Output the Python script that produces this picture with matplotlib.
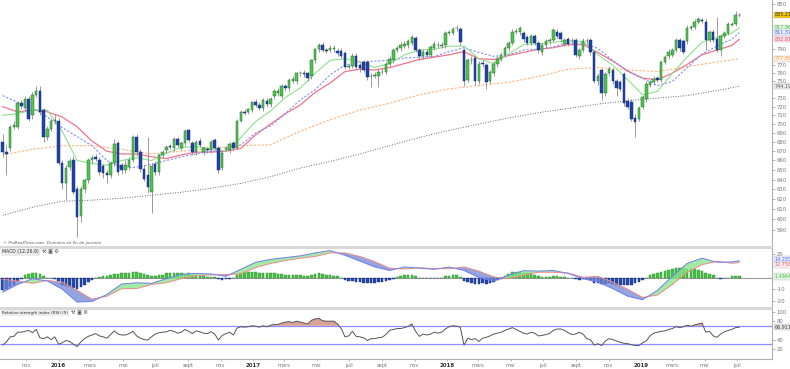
import matplotlib.pyplot as plt
import pandas as pd
from matplotlib.patches import Rectangle
from matplotlib.ticker import NullLocator, NullFormatter

plt.rcParams['font.family'] = ['DejaVu Sans']

# weekly candles, first bar = week of 18 Sep 2015
start = pd.Timestamp('2015-09-18')

opens = [680, 669, 673, 697, 697, 724, 719, 729, 710, 734,
         738, 716, 686, 695, 704, 703, 657, 636, 653, 661,
         630, 603, 630, 639, 660, 664, 661, 654, 647, 645,
         657, 679, 655, 650, 653, 661, 686, 669, 651, 645,
         627, 656, 648, 666, 671, 676, 673, 683, 674, 679,
         693, 679, 669, 681, 669, 672, 671, 682, 673, 652,
         672, 671, 679, 674, 704, 714, 714, 716, 726, 722,
         718, 727, 723, 732, 736, 733, 744, 742, 751, 750,
         760, 760, 760, 756, 776, 790, 796, 789, 789, 790,
         788, 788, 785, 768, 769, 782, 770, 774, 774, 756,
         757, 756, 761, 762, 771, 776, 789, 791, 794, 795,
         798, 804, 789, 781, 787, 783, 792, 796, 794, 795,
         811, 811, 817, 816, 789, 752, 776, 779, 750, 773,
         770, 750, 760, 771, 778, 783, 791, 798, 813, 812,
         811, 806, 798, 807, 798, 786, 795, 800, 802, 813,
         811, 797, 803, 800, 802, 781, 789, 800, 802, 786,
         750, 764, 736, 760, 764, 750, 749, 759, 727, 726,
         707, 706, 720, 729, 746, 749, 754, 752, 774, 781,
         783, 789, 802, 800, 800, 818, 819, 826, 828, 826,
         802, 812, 803, 789, 807, 811, 822, 823, 835]
highs = [689, 677, 699, 703, 727, 728, 733, 733, 737, 745,
         745, 719, 698, 707, 712, 707, 660, 655, 663, 665,
         633, 633, 642, 663, 666, 667, 664, 656, 650, 659,
         683, 681, 657, 660, 664, 688, 689, 672, 655, 686,
         657, 659, 668, 671, 677, 678, 685, 686, 681, 694,
         695, 681, 682, 684, 675, 675, 682, 684, 676, 670,
         676, 680, 681, 706, 716, 717, 719, 727, 729, 725,
         730, 730, 731, 741, 742, 747, 747, 754, 756, 762,
         763, 764, 762, 778, 792, 798, 799, 792, 795, 795,
         791, 791, 788, 772, 785, 785, 773, 776, 776, 760,
         762, 765, 766, 774, 781, 792, 794, 799, 800, 803,
         809, 807, 792, 790, 790, 796, 800, 799, 799, 814,
         815, 819, 822, 819, 792, 779, 781, 782, 775, 776,
         773, 764, 775, 781, 786, 794, 801, 816, 817, 820,
         814, 809, 810, 810, 801, 798, 803, 805, 818, 816,
         814, 805, 806, 804, 805, 792, 804, 805, 805, 789,
         760, 767, 762, 769, 767, 753, 752, 762, 730, 729,
         712, 721, 734, 750, 752, 756, 757, 777, 783, 790,
         792, 805, 805, 803, 821, 822, 829, 832, 831, 829,
         815, 815, 832, 810, 814, 826, 826, 840, 838]
lows = [664, 645, 670, 694, 694, 717, 715, 703, 706, 731,
        710, 680, 682, 692, 700, 655, 630, 619, 650, 625,
        583, 598, 626, 636, 656, 659, 645, 642, 636, 642,
        654, 645, 646, 647, 650, 658, 665, 648, 638, 626,
        606, 645, 645, 663, 668, 672, 670, 675, 671, 676,
        680, 666, 666, 675, 666, 668, 668, 671, 647, 650,
        670, 668, 671, 672, 702, 710, 711, 714, 720, 716,
        715, 720, 720, 729, 733, 730, 739, 739, 748, 747,
        757, 755, 751, 753, 773, 787, 786, 785, 786, 787,
        781, 779, 765, 765, 766, 765, 762, 761, 752, 743,
        754, 743, 759, 759, 768, 773, 786, 788, 791, 792,
        795, 786, 777, 778, 780, 780, 789, 792, 791, 792,
        808, 808, 814, 796, 745, 749, 772, 746, 747, 768,
        741, 747, 757, 768, 775, 780, 788, 795, 810, 809,
        799, 795, 795, 795, 785, 783, 792, 797, 799, 804,
        800, 794, 794, 797, 780, 778, 786, 797, 783, 748,
        746, 728, 733, 757, 747, 733, 738, 721, 717, 703,
        686, 703, 717, 726, 743, 746, 749, 749, 771, 778,
        780, 786, 788, 784, 797, 815, 816, 823, 824, 789,
        799, 799, 786, 782, 804, 808, 820, 820, 832]
closes = [669, 667, 697, 699, 724, 721, 729, 706, 734, 739,
          714, 686, 695, 704, 705, 657, 636, 652, 659, 627,
          602, 630, 639, 661, 663, 662, 648, 647, 645, 657,
          678, 648, 650, 655, 661, 686, 669, 651, 641, 632,
          654, 648, 666, 669, 675, 675, 683, 677, 679, 692,
          682, 669, 680, 677, 673, 671, 680, 673, 650, 668,
          673, 678, 674, 704, 714, 713, 717, 725, 722, 719,
          728, 723, 729, 739, 739, 745, 742, 752, 753, 760,
          760, 759, 754, 776, 790, 795, 789, 788, 792, 792,
          785, 782, 768, 768, 782, 768, 766, 764, 755, 757,
          758, 762, 762, 771, 778, 789, 791, 796, 797, 800,
          806, 789, 781, 787, 783, 793, 797, 795, 796, 811,
          812, 816, 818, 799, 750, 776, 777, 750, 772, 772,
          749, 761, 772, 778, 783, 791, 798, 813, 814, 817,
          803, 798, 807, 798, 789, 795, 800, 802, 815, 807,
          803, 802, 797, 801, 783, 789, 801, 801, 786, 751,
          756, 736, 759, 765, 750, 742, 741, 724, 720, 706,
          702, 718, 731, 747, 749, 753, 752, 774, 780, 787,
          789, 802, 791, 787, 818, 819, 826, 829, 827, 802,
          812, 802, 789, 807, 811, 823, 823, 835, 835.21]

# moving averages read every 4 weeks (fast) / 8 weeks (slow)
ma_fast_weeks = [0, 4, 8, 12, 16, 20, 24, 28, 32, 36, 40, 44, 48, 52, 56, 60, 64, 68,
                 72, 76, 80, 84, 88, 92, 96, 100, 104, 108, 112, 116, 120, 124, 128,
                 132, 136, 140, 144, 148, 152, 156, 160, 164, 168, 172, 176, 180, 184,
                 188, 192, 196, 198]
ma_green = [710, 712, 716, 716, 692, 660, 657, 655, 660, 663, 660, 668, 674, 675, 673,
            670, 685, 703, 715, 731, 742, 760, 776, 778, 774, 767, 772, 783, 789, 790,
            794, 794, 778, 772, 784, 796, 797, 799, 801, 800, 783, 770, 752, 734, 738,
            760, 780, 799, 805, 811, 817.96]
ma_blue = [733, 725, 719, 708, 696, 686, 676, 660, 652, 653, 656, 660, 664, 667, 670,
           671, 677, 690, 698, 712, 728, 740, 758, 770, 774, 775, 776, 779, 780, 781,
           787, 792, 786, 781, 783, 789, 790, 793, 798, 798, 791, 776, 762, 754, 745,
           750, 767, 784, 794, 803, 811.37]
ma_red = [720, 714, 716, 714, 708, 697, 681, 670, 667, 667, 664, 662, 666, 669, 669,
          670, 673, 688, 700, 712, 722, 737, 748, 762, 765, 764, 767, 772, 777, 780,
          783, 787, 778, 777, 782, 786, 790, 792, 796, 796, 786, 775, 763, 754, 752,
          760, 771, 783, 789, 795, 802.81]
ma_slow_weeks = [0, 8, 16, 24, 32, 40, 48, 56, 64, 72, 80, 88, 96, 104, 112, 120, 128,
                 136, 144, 152, 160, 168, 176, 184, 192, 198]
ma_orange = [666, 672, 676, 676, 672, 667, 670, 673, 676, 677, 692, 705, 716, 724, 734,
             741, 745, 749, 756, 765, 767, 764, 762, 768, 774, 777.88]
ma_black = [604, 612, 618, 619, 621, 624, 627, 631, 636, 643, 652, 659, 667, 676, 685,
            693, 700, 707, 713, 718, 723, 727, 730, 733, 739, 744.19]

# MACD (12,26,9): lines read every 4 weeks, histogram weekly
macd_line = [-12.5, -6, -1, -3, -10, -21, -20.5, -14.5, -5.5, -4.5, -5, -1, 2.5, 3.5, 3,
             1, 7, 13, 15.5, 17, 18.5, 21, 23, 19, 14, 9, 6, 9, 8, 7, 9, 6, 0, -3, 2,
             5.8, 5.5, 6, 3.5, -1, -4, -9.5, -16, -19, -11, 1, 12, 16.5, 13, 13.3, 14.285]
macd_signal = [-1.5, -3, -5, -2.5, -4, -11, -18.5, -16, -9.5, -9.5, -6, -4.5, -1, 1.5,
               2.2, 2.5, 3, 8.5, 12, 14.5, 16.5, 18, 21, 21, 18, 13.5, 8, 7.2, 8.3, 7.6,
               7.5, 9, 5.5, 0.5, -1, 1.8, 4.5, 4.5, 3.8, 0.2, 1, -4, -10, -17, -15, -6,
               4.5, 11, 13.8, 12.2, 12.758]
macd_hist = [-11, -10, -8, -6, -3, -1, 2, 3, 4, 4,
             3, 1, -0.5, -0.5, -1, -3, -6, -7, -8, -9,
             -10, -8, -6, -4, -2, -0.5, 0.5, 1, 1.5, 2,
             3, 3, 4, 4, 3.5, 5, 5, 4, 3, 2,
             1, 1.5, 2, 2.5, 3.5, 3.5, 4, 4, 3.5, 3,
             3.5, 2.5, 2, 1.5, 1, 0.5, 0.8, 0.3, -1.5, -1.8,
             -1.5, -1.2, -0.8, 2, 4, 4.5, 5, 5, 4.5, 4,
             4, 3.5, 3.5, 3.5, 3, 3, 2.5, 2.5, 2.5, 2.5,
             2, 1.5, 1, 2, 3, 3.5, 3, 2.5, 2, 1.5,
             1, -0.5, -2, -3, -3, -3.5, -4, -4.5, -5, -5,
             -4.5, -4, -3.5, -3, -2, -1, 0.5, 1.5, 1.8, 2,
             2.2, 1.2, -0.3, -0.5, -0.8, -0.8, -0.6, -0.5, -0.3, 1,
             1.5, 2, 2, 0.5, -3, -4, -4.5, -5.5, -5.5, -5,
             -5.5, -4.5, -3.5, -2, -1, 1, 3, 4.5, 4.8, 5,
             4, 3.5, 3.5, 2.5, 1, 0.8, 0.8, 0.8, 1.5, 1.2,
             0.8, 0.3, -0.3, -0.3, -1.5, -1.8, -1.2, -1.5, -2.5, -4.5,
             -5, -5.5, -5.5, -5, -5.5, -6, -6, -6.5, -6, -6,
             -5, -4, -2, -0.5, 1.9, 3.2, 4, 4.7, 5.5, 6.2,
             7, 8, 8.1, 8, 7.5, 7.2, 7, 6, 5.3, 4,
             3.2, 1.9, -0.8, -1, -0.8, -0.3, 1.2, 1.5, 1.4964]

# RSI (9), weekly
rsi = [28, 35, 46, 47, 56, 56, 58, 60, 55, 62,
       44, 42, 46, 40, 46, 30, 33, 38, 36, 30,
       25, 35, 42, 47, 50, 53, 48, 46, 43, 51,
       59, 52, 50, 50, 53, 58, 48, 43, 40, 39,
       46, 52, 55, 56, 57, 60, 58, 54, 56, 62,
       58, 53, 59, 57, 54, 53, 57, 52, 39, 49,
       53, 56, 50, 65, 68, 67, 68, 70, 69, 67,
       70, 68, 71, 73, 73, 76, 78, 79, 77, 80,
       78, 76, 74, 82, 85, 86, 81, 80, 80, 80,
       74, 64, 46, 48, 58, 47, 46, 44, 38, 42,
       42, 44, 45, 51, 60, 62, 64, 64, 66, 69,
       74, 58, 47, 52, 50, 52, 56, 54, 56, 63,
       68, 70, 69, 67, 28, 43, 40, 42, 36, 43,
       45, 48, 52, 54, 56, 60, 63, 66, 62, 58,
       54, 52, 56, 54, 48, 49, 51, 53, 60, 63,
       63, 60, 55, 51, 52, 56, 52, 42, 40, 28,
       31, 27, 37, 42, 40, 37, 34, 32, 31, 29,
       27, 27, 33, 37, 48, 54, 56, 58, 59, 62,
       64, 68, 66, 68, 71, 69, 72, 74, 76, 56,
       58, 48, 45, 52, 57, 60, 62, 66, 66.911]

month_dates = ['2015-11-01', '2016-01-01', '2016-03-01', '2016-05-01', '2016-07-01',
               '2016-09-01', '2016-11-01', '2017-01-01', '2017-03-01', '2017-05-01',
               '2017-07-01', '2017-09-01', '2017-11-01', '2018-01-01', '2018-03-01',
               '2018-05-01', '2018-07-01', '2018-09-01', '2018-11-01', '2019-01-01',
               '2019-03-01', '2019-05-01', '2019-07-01']
month_labels = ['nov', '2016', 'mars', 'mai', 'juil', 'sept', 'nov', '2017', 'mars', 'mai',
                'juil', 'sept', 'nov', '2018', 'mars', 'mai', 'juil', 'sept', 'nov', '2019',
                'mars', 'mai', 'juil']

# right-axis labels that are not hidden behind the value tags
price_ticks = [590, 600, 610, 620, 630, 640, 650, 660, 670, 680, 690, 700, 710, 720,
               730, 750, 760, 770, 790, 850]
macd_ticks = [20, -10, -20]
rsi_ticks = [100, 80, 40, 20]

W, H = 790, 369
TAG = 3.5
fig = plt.figure(figsize=(W / 100, H / 100), dpi=100)
fig.patch.set_facecolor('white')


def box(top, bottom):
    return [0, 1 - bottom / H, 772 / W, (bottom - top) / H]


def tag(ax, y, text, bg, fg):
    ax.text(1.003, y, text, transform=ax.get_yaxis_transform(), fontsize=TAG,
            color=fg, va='center', ha='left', clip_on=False, zorder=10,
            bbox=dict(boxstyle='square,pad=0.12', fc=bg, ec='#bbbbbb', lw=0.3))


ax1 = fig.add_axes(box(0, 246))
ax2 = fig.add_axes(box(248, 307))
ax3 = fig.add_axes(box(309, 359))

weeks = list(range(len(closes)))
xlim = (-0.73, 206.8)

# ---- price panel
ax1.set_yscale('log')
for i in weeks:
    o, c = opens[i], closes[i]
    up = c >= o
    ax1.vlines(i, lows[i], highs[i], color='#8a8a8a', lw=0.6, zorder=2)
    lo, hi = min(o, c), max(o, c)
    if hi - lo < 0.6:
        hi = lo + 0.6
    ax1.bar(i, hi - lo, bottom=lo, width=0.68,
            color='#4fc44f' if up else '#1f43a3',
            edgecolor='#2b6e2b' if up else '#17307a', linewidth=0.35, zorder=3)

ax1.plot(ma_slow_weeks, ma_black, color='#666666', lw=0.7, ls=(0, (1, 1.6)), zorder=1)
ax1.plot(ma_slow_weeks, ma_orange, color='#ffb27a', lw=0.8, ls=(0, (2, 1.5)), zorder=1)
ax1.plot(ma_fast_weeks, ma_red, color='#f4738a', lw=0.9, zorder=1)
ax1.plot(ma_fast_weeks, ma_blue, color='#8090f5', lw=0.8, ls=(0, (2, 1.5)), zorder=1)
ax1.plot(ma_fast_weeks, ma_green, color='#8ee08e', lw=0.8, zorder=1)

ax1.set_ylim(574.8, 855.5)
ax1.set_yticks(price_ticks)
ax1.set_yticklabels([str(t) for t in price_ticks])
ax1.yaxis.set_minor_locator(NullLocator())
ax1.yaxis.set_minor_formatter(NullFormatter())
for lab, t in zip(ax1.get_yticklabels(), price_ticks):
    if t % 50 == 0:
        lab.set_fontweight('bold')
        lab.set_color('#333333')

tag(ax1, 835.21, '835.21', '#f2c400', '#333333')
tag(ax1, 817.96, '817.96', '#e4f6e4', '#55b855')
tag(ax1, 811.37, '811.37', '#e8ebff', '#5a6cea')
tag(ax1, 802.81, '802.81', '#ffe4e8', '#e0506a')
tag(ax1, 777.88, '777.88', '#fff0e2', '#f0a060')
tag(ax1, 744.19, '744.19', '#ececec', '#555555')

# ---- MACD panel
ax2.axhline(0, color='#9a9a9a', lw=0.8, zorder=1)
ax2.bar(weeks, macd_hist, width=0.7,
        color=['#45c445' if h >= 0 else '#2346a8' for h in macd_hist],
        edgecolor=['#2b8a2b' if h >= 0 else '#1a3480' for h in macd_hist],
        linewidth=0.3, zorder=2)
ax2.fill_between(ma_fast_weeks, macd_line, macd_signal,
                 where=[m >= s for m, s in zip(macd_line, macd_signal)],
                 interpolate=True, color='#86e486', alpha=0.75, lw=0, zorder=3)
ax2.fill_between(ma_fast_weeks, macd_line, macd_signal,
                 where=[m < s for m, s in zip(macd_line, macd_signal)],
                 interpolate=True, color='#6f86d4', alpha=0.75, lw=0, zorder=3)
ax2.plot(ma_fast_weeks, macd_signal, color='#f08a8a', lw=0.7, zorder=4)
ax2.plot(ma_fast_weeks, macd_line, color='#6f7ff0', lw=0.7, zorder=4)
ax2.set_ylim(-25.2, 25.2)
ax2.set_yticks(macd_ticks)
ax2.set_yticklabels([str(t) for t in macd_ticks])
tag(ax2, 15.6, '14.285', '#eef0ff', '#5a6cea')
tag(ax2, 11.0, '12.758', '#ffeef0', '#e06070')
tag(ax2, 0.8, '1.4964', '#e4f6e4', '#55b855')

# ---- RSI panel
ax3.plot(weeks, rsi, color='#555555', lw=0.7, zorder=3)
ax3.fill_between(weeks, rsi, 70, where=[r > 70 for r in rsi], interpolate=True,
                 color='#c8705f', alpha=0.65, lw=0, zorder=2)
ax3.fill_between(weeks, rsi, 30, where=[r < 30 for r in rsi], interpolate=True,
                 color='#9fb0e8', alpha=0.6, lw=0, zorder=2)
ax3.axhline(70, color='#8c8cff', lw=0.9, zorder=1)
ax3.axhline(30, color='#8c8cff', lw=0.9, zorder=1)
ax3.set_ylim(-2.2, 106.5)
ax3.set_yticks(rsi_ticks)
ax3.set_yticklabels([str(t) for t in rsi_ticks])
ax3.get_yticklabels()[0].set_fontweight('bold')
ax3.get_yticklabels()[0].set_color('#333333')
tag(ax3, 66.911, '66.911', '#e6e6e6', '#444444')

# ---- shared styling
tick_pos = [(pd.Timestamp(d) - start).days / 7 for d in month_dates]
for ax in (ax1, ax2, ax3):
    ax.set_xlim(*xlim)
    ax.set_facecolor('white')
    for side in ('top', 'left', 'bottom'):
        ax.spines[side].set_visible(False)
    ax.spines['right'].set_color('#b0b0b0')
    ax.spines['right'].set_linewidth(0.8)
    ax.yaxis.tick_right()
    ax.tick_params(axis='y', labelsize=3.8, labelcolor='#777777', length=2,
                   width=0.5, color='#999999', pad=1.5)
    ax.set_xticks([])

ax3.spines['bottom'].set_visible(True)
ax3.spines['bottom'].set_color('#b0b0b0')
ax3.spines['bottom'].set_linewidth(0.8)
ax3.set_xticks(tick_pos)
ax3.set_xticklabels(month_labels)
ax3.tick_params(axis='x', labelsize=3.7, labelcolor='#777777', length=1.5,
                width=0.5, color='#999999', pad=1.5)
for lab in ax3.get_xticklabels():
    if lab.get_text().isdigit():
        lab.set_fontweight('bold')
        lab.set_color('#333333')
        lab.set_fontsize(4.0)

# separator bands between panels
for top, bottom in ((246, 248.5), (307, 309.5)):
    fig.add_artist(Rectangle((0, 1 - bottom / H), 772 / W, (bottom - top) / H,
                             transform=fig.transFigure, color='#d8d8d8', lw=0))

# header texts
t1 = fig.text(3 / W, 1 - 243.3 / H, '© ProRealTime.com', fontsize=3.0, color='#555555',
              va='center', ha='left')
h1 = fig.text(2 / W, 1 - 252 / H, 'MACD (12,26,9)', fontsize=3.3, color='#333333',
              va='center', ha='left',
              bbox=dict(boxstyle='square,pad=0.3', fc='#ececec', ec='none'))
h2 = fig.text(2 / W, 1 - 313 / H, 'Relative strength index (RSI) (9)', fontsize=3.0,
              color='#333333', va='center', ha='left',
              bbox=dict(boxstyle='square,pad=0.3', fc='#ececec', ec='none'))
fig.canvas.draw()
x_after = t1.get_window_extent().x1
fig.text((x_after + 3) / W, 1 - 243.3 / H, 'Données en fin de journée', fontsize=3.0,
         color='#555555', va='center', ha='left', style='italic')
for h, ypix in ((h1, 252), (h2, 313)):
    x0 = h.get_window_extent().x1 + 3
    fig.text(x0 / W, 1 - ypix / H, '⚒ ▣ ⚙', fontsize=3.6, color='#444444',
             va='center', ha='left')

fig.savefig('out.png', dpi=100, facecolor='white')
